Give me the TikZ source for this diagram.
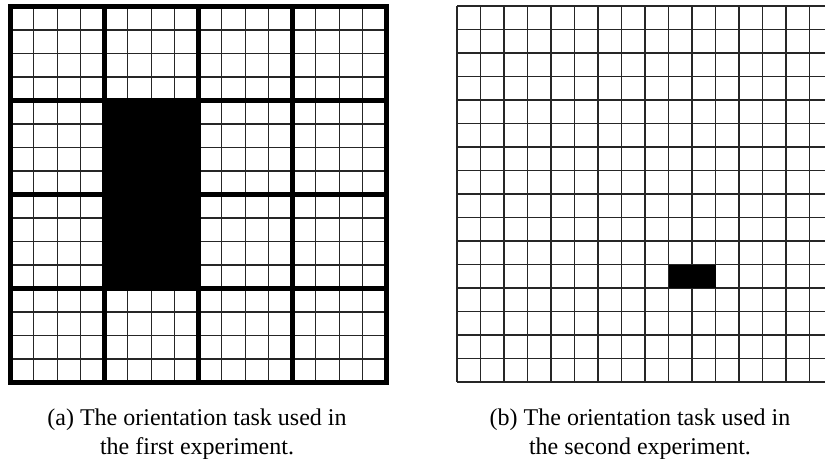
\documentclass[tikz,border=0pt]{standalone}
\usepackage{fontspec}
\setmainfont{Liberation Serif}
\begin{document}
\begin{tikzpicture}[x=0.75pt,y=-0.75pt,
  thin grid/.style={line width=0.9pt,black!85},
  thick grid/.style={line width=3.4pt,black},
  captext/.style={anchor=base,font=\fontsize{18pt}{21pt}\selectfont,inner sep=0pt}]
\useasboundingbox (0,0) rectangle (825,458);
% left grid
\begin{scope}[shift={(10.3,6.5)}]
  \foreach \i in {1,...,15} {
    \draw[thin grid] (\i*23.5,0) -- (\i*23.5,16*23.5);
    \draw[thin grid] (0,\i*23.5) -- (16*23.5,\i*23.5);
  }
  \fill[black] (4*23.5,4*23.5) rectangle (8*23.5,12*23.5);
  \foreach \i in {0,4,8,12,16} {
    \draw[thick grid,line cap=rect] (\i*23.5,0) -- (\i*23.5,16*23.5);
    \draw[thick grid,line cap=rect] (0,\i*23.5) -- (16*23.5,\i*23.5);
  }
\end{scope}
% right grid
\begin{scope}[shift={(457,6)}]
  \foreach \i in {0,...,16} {
    \draw[thin grid] (\i*23.5,0) -- (\i*23.5,16*23.5);
    \draw[thin grid] (0,\i*23.5) -- (16*23.5,\i*23.5);
  }
  \fill[black] (9*23.5,11*23.5) rectangle (11*23.5,12*23.5);
\end{scope}
\node[captext] (ca1) at (197,425) {(a) The orientation task used in};
\node[captext] (ca2) at (197,454) {the first experiment.};
\node[captext] (cb1) at (640,425) {(b) The orientation task used in};
\node[captext] (cb2) at (640,454) {the second experiment.};
\end{tikzpicture}
\end{document}
